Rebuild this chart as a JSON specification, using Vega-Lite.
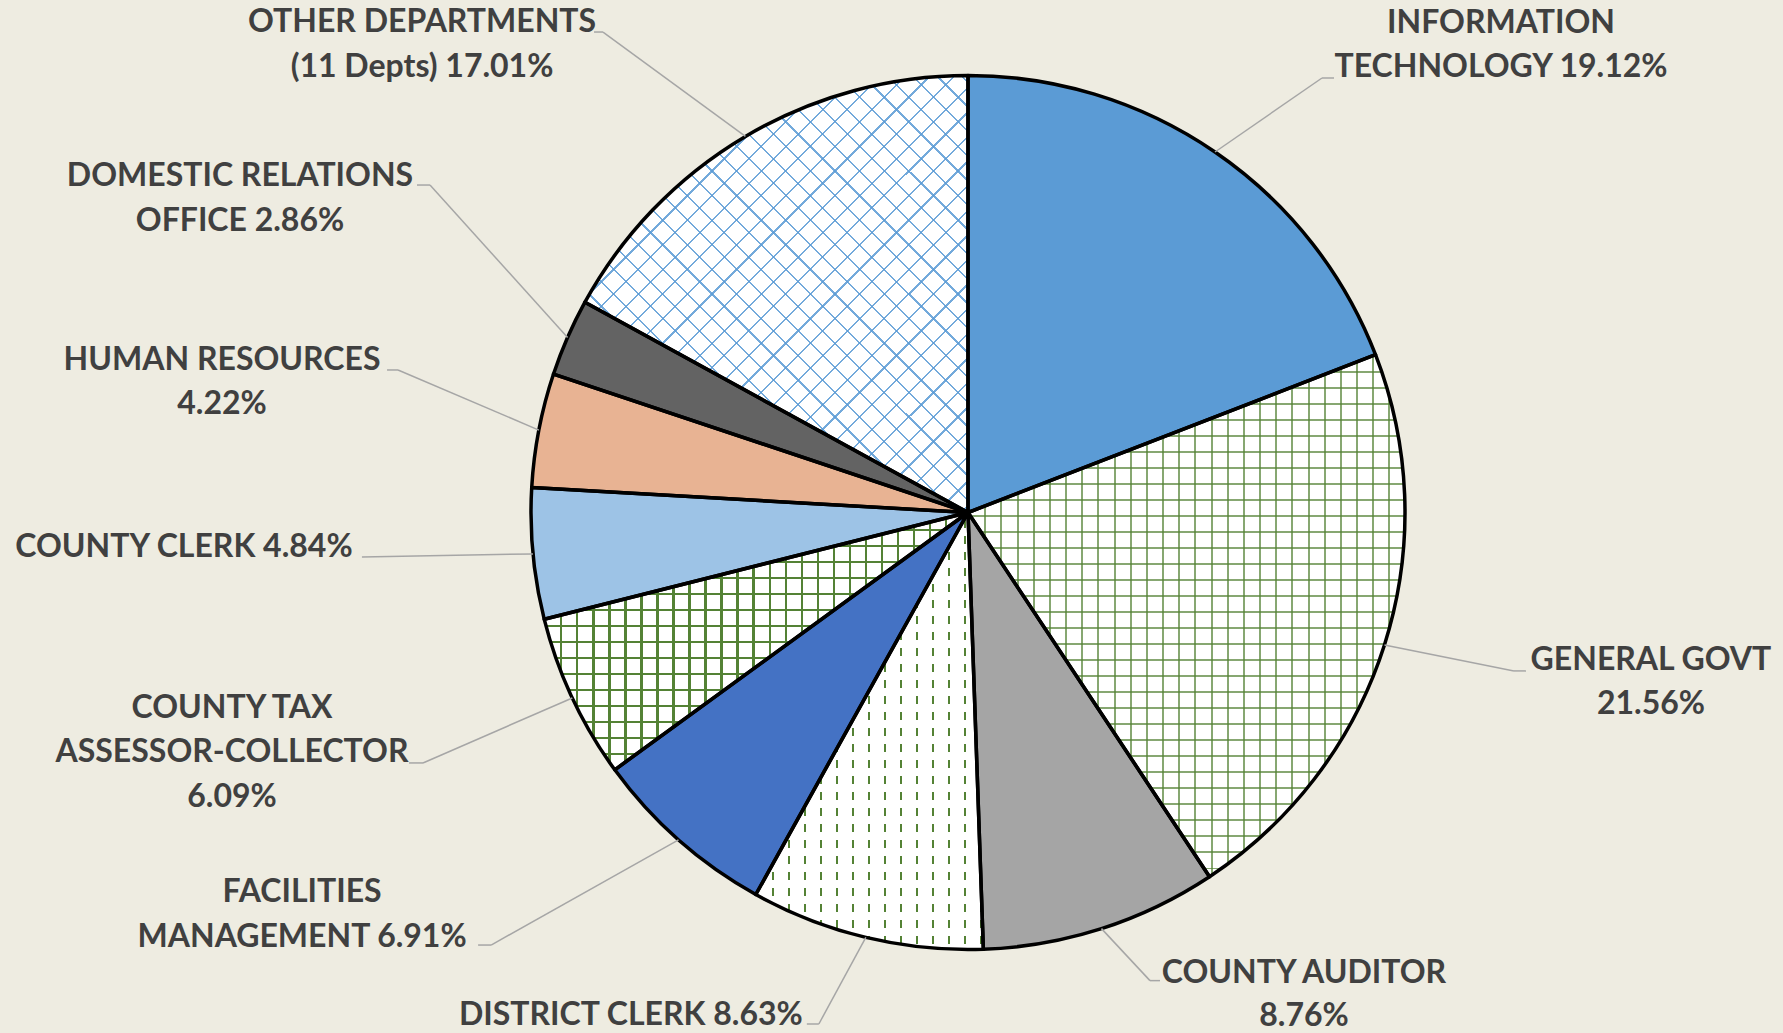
{
  "$schema": "https://vega.github.io/schema/vega-lite/v6.json",
  "width": 1630,
  "height": 1025,
  "padding": {"left": 153, "top": 0, "right": 0, "bottom": 8},
  "autosize": {"type": "none"},
  "background": "#EEECE1",
  "config": {"view": {"stroke": null}},
  "data": {"values": [
    {"dept": "INFORMATION TECHNOLOGY", "pct": 19.12, "order": 1, "label": ["INFORMATION", "TECHNOLOGY 19.12%"]},
    {"dept": "GENERAL GOVT", "pct": 21.56, "order": 2, "label": ["GENERAL GOVT", "21.56%"]},
    {"dept": "COUNTY AUDITOR", "pct": 8.76, "order": 3, "label": ["COUNTY AUDITOR", "8.76%"]},
    {"dept": "DISTRICT CLERK", "pct": 8.63, "order": 4, "label": ["DISTRICT CLERK 8.63%"]},
    {"dept": "FACILITIES MANAGEMENT", "pct": 6.91, "order": 5, "label": ["FACILITIES", "MANAGEMENT 6.91%"]},
    {"dept": "COUNTY TAX ASSESSOR-COLLECTOR", "pct": 6.09, "order": 6, "label": ["COUNTY TAX", "ASSESSOR-COLLECTOR", "6.09%"]},
    {"dept": "COUNTY CLERK", "pct": 4.84, "order": 7, "label": ["COUNTY CLERK 4.84%"]},
    {"dept": "HUMAN RESOURCES", "pct": 4.22, "order": 8, "label": ["HUMAN RESOURCES", "4.22%"]},
    {"dept": "DOMESTIC RELATIONS OFFICE", "pct": 2.86, "order": 9, "label": ["DOMESTIC RELATIONS", "OFFICE 2.86%"]},
    {"dept": "OTHER DEPARTMENTS (11 Depts)", "pct": 17.01, "order": 10, "label": ["OTHER DEPARTMENTS", "(11 Depts) 17.01%"]}
  ]},
  "transform": [
    {"window": [{"op": "sum", "field": "pct", "as": "cum"}], "sort": [{"field": "order"}], "frame": [null, 0]},
    {"calculate": "datum.cum - datum.pct", "as": "cum0"},
    {"calculate": "(datum.cum - datum.pct / 2) / 100 * 2 * PI", "as": "mid"},
    {"calculate": "sin(datum.mid)", "as": "ex"},
    {"calculate": "cos(datum.mid)", "as": "ey"}
  ],
  "layer": [
    {
      "mark": {"type": "arc", "outerRadius": 437, "stroke": null},
      "encoding": {
        "theta": {"field": "cum0", "type": "quantitative", "scale": {"domain": [0, 100]}, "stack": null},
        "theta2": {"field": "cum"},
        "color": {"field": "dept", "type": "nominal", "legend": null,
          "scale": {
            "domain": ["INFORMATION TECHNOLOGY", "GENERAL GOVT", "COUNTY AUDITOR", "DISTRICT CLERK", "FACILITIES MANAGEMENT", "COUNTY TAX ASSESSOR-COLLECTOR", "COUNTY CLERK", "HUMAN RESOURCES", "DOMESTIC RELATIONS OFFICE", "OTHER DEPARTMENTS (11 Depts)"],
            "range": ["#5B9BD5", "#FFFFFF", "#A5A5A5", "#FFFFFF", "#4472C4", "#FFFFFF", "#9DC3E6", "#E8B393", "#636363", "#FFFFFF"]
          }}
      }
    },
    {
      "transform": [{"filter": "datum.order == 2"}],
      "mark": {"type": "arc", "outerRadius": 437, "stroke": null, "fillOpacity": 0.7,
        "fill": {"gradient": "linear", "x1": 0, "y1": 0, "x2": 1, "y2": 0, "stops": [
          {"offset": 0, "color": "rgba(0,0,0,0)"},
          {"offset": 0.037, "color": "rgba(0,0,0,0)"}, {"offset": 0.037, "color": "#548235"}, {"offset": 0.0416, "color": "#548235"}, {"offset": 0.0416, "color": "rgba(0,0,0,0)"},
          {"offset": 0.074, "color": "rgba(0,0,0,0)"}, {"offset": 0.074, "color": "#548235"}, {"offset": 0.0786, "color": "#548235"}, {"offset": 0.0786, "color": "rgba(0,0,0,0)"},
          {"offset": 0.111, "color": "rgba(0,0,0,0)"}, {"offset": 0.111, "color": "#548235"}, {"offset": 0.1156, "color": "#548235"}, {"offset": 0.1156, "color": "rgba(0,0,0,0)"},
          {"offset": 0.148, "color": "rgba(0,0,0,0)"}, {"offset": 0.148, "color": "#548235"}, {"offset": 0.1526, "color": "#548235"}, {"offset": 0.1526, "color": "rgba(0,0,0,0)"},
          {"offset": 0.185, "color": "rgba(0,0,0,0)"}, {"offset": 0.185, "color": "#548235"}, {"offset": 0.1896, "color": "#548235"}, {"offset": 0.1896, "color": "rgba(0,0,0,0)"},
          {"offset": 0.222, "color": "rgba(0,0,0,0)"}, {"offset": 0.222, "color": "#548235"}, {"offset": 0.2266, "color": "#548235"}, {"offset": 0.2266, "color": "rgba(0,0,0,0)"},
          {"offset": 0.259, "color": "rgba(0,0,0,0)"}, {"offset": 0.259, "color": "#548235"}, {"offset": 0.2636, "color": "#548235"}, {"offset": 0.2636, "color": "rgba(0,0,0,0)"},
          {"offset": 0.296, "color": "rgba(0,0,0,0)"}, {"offset": 0.296, "color": "#548235"}, {"offset": 0.3006, "color": "#548235"}, {"offset": 0.3006, "color": "rgba(0,0,0,0)"},
          {"offset": 0.333, "color": "rgba(0,0,0,0)"}, {"offset": 0.333, "color": "#548235"}, {"offset": 0.3376, "color": "#548235"}, {"offset": 0.3376, "color": "rgba(0,0,0,0)"},
          {"offset": 0.37, "color": "rgba(0,0,0,0)"}, {"offset": 0.37, "color": "#548235"}, {"offset": 0.3746, "color": "#548235"}, {"offset": 0.3746, "color": "rgba(0,0,0,0)"},
          {"offset": 0.407, "color": "rgba(0,0,0,0)"}, {"offset": 0.407, "color": "#548235"}, {"offset": 0.4116, "color": "#548235"}, {"offset": 0.4116, "color": "rgba(0,0,0,0)"},
          {"offset": 0.444, "color": "rgba(0,0,0,0)"}, {"offset": 0.444, "color": "#548235"}, {"offset": 0.4486, "color": "#548235"}, {"offset": 0.4486, "color": "rgba(0,0,0,0)"},
          {"offset": 0.481, "color": "rgba(0,0,0,0)"}, {"offset": 0.481, "color": "#548235"}, {"offset": 0.4856, "color": "#548235"}, {"offset": 0.4856, "color": "rgba(0,0,0,0)"},
          {"offset": 0.518, "color": "rgba(0,0,0,0)"}, {"offset": 0.518, "color": "#548235"}, {"offset": 0.5226, "color": "#548235"}, {"offset": 0.5226, "color": "rgba(0,0,0,0)"},
          {"offset": 0.555, "color": "rgba(0,0,0,0)"}, {"offset": 0.555, "color": "#548235"}, {"offset": 0.5596, "color": "#548235"}, {"offset": 0.5596, "color": "rgba(0,0,0,0)"},
          {"offset": 0.592, "color": "rgba(0,0,0,0)"}, {"offset": 0.592, "color": "#548235"}, {"offset": 0.5966, "color": "#548235"}, {"offset": 0.5966, "color": "rgba(0,0,0,0)"},
          {"offset": 0.629, "color": "rgba(0,0,0,0)"}, {"offset": 0.629, "color": "#548235"}, {"offset": 0.6336, "color": "#548235"}, {"offset": 0.6336, "color": "rgba(0,0,0,0)"},
          {"offset": 0.666, "color": "rgba(0,0,0,0)"}, {"offset": 0.666, "color": "#548235"}, {"offset": 0.6706, "color": "#548235"}, {"offset": 0.6706, "color": "rgba(0,0,0,0)"},
          {"offset": 0.703, "color": "rgba(0,0,0,0)"}, {"offset": 0.703, "color": "#548235"}, {"offset": 0.7076, "color": "#548235"}, {"offset": 0.7076, "color": "rgba(0,0,0,0)"},
          {"offset": 0.74, "color": "rgba(0,0,0,0)"}, {"offset": 0.74, "color": "#548235"}, {"offset": 0.7446, "color": "#548235"}, {"offset": 0.7446, "color": "rgba(0,0,0,0)"},
          {"offset": 0.777, "color": "rgba(0,0,0,0)"}, {"offset": 0.777, "color": "#548235"}, {"offset": 0.7816, "color": "#548235"}, {"offset": 0.7816, "color": "rgba(0,0,0,0)"},
          {"offset": 0.814, "color": "rgba(0,0,0,0)"}, {"offset": 0.814, "color": "#548235"}, {"offset": 0.8186, "color": "#548235"}, {"offset": 0.8186, "color": "rgba(0,0,0,0)"},
          {"offset": 0.851, "color": "rgba(0,0,0,0)"}, {"offset": 0.851, "color": "#548235"}, {"offset": 0.8556, "color": "#548235"}, {"offset": 0.8556, "color": "rgba(0,0,0,0)"},
          {"offset": 0.888, "color": "rgba(0,0,0,0)"}, {"offset": 0.888, "color": "#548235"}, {"offset": 0.8926, "color": "#548235"}, {"offset": 0.8926, "color": "rgba(0,0,0,0)"},
          {"offset": 0.925, "color": "rgba(0,0,0,0)"}, {"offset": 0.925, "color": "#548235"}, {"offset": 0.9296, "color": "#548235"}, {"offset": 0.9296, "color": "rgba(0,0,0,0)"},
          {"offset": 0.962, "color": "rgba(0,0,0,0)"}, {"offset": 0.962, "color": "#548235"}, {"offset": 0.9666, "color": "#548235"}, {"offset": 0.9666, "color": "rgba(0,0,0,0)"},
          {"offset": 1, "color": "rgba(0,0,0,0)"}
        ]}},
      "encoding": {
        "theta": {"field": "cum0", "type": "quantitative", "scale": {"domain": [0, 100]}, "stack": null},
        "theta2": {"field": "cum"}
      }
    },
    {
      "transform": [{"filter": "datum.order == 2"}],
      "mark": {"type": "arc", "outerRadius": 437, "stroke": null, "fillOpacity": 0.7,
        "fill": {"gradient": "linear", "x1": 0, "y1": 0, "x2": 0, "y2": 1, "stops": [
          {"offset": 0, "color": "rgba(0,0,0,0)"},
          {"offset": 0.0307, "color": "rgba(0,0,0,0)"}, {"offset": 0.0307, "color": "#548235"}, {"offset": 0.0345, "color": "#548235"}, {"offset": 0.0345, "color": "rgba(0,0,0,0)"},
          {"offset": 0.0614, "color": "rgba(0,0,0,0)"}, {"offset": 0.0614, "color": "#548235"}, {"offset": 0.0652, "color": "#548235"}, {"offset": 0.0652, "color": "rgba(0,0,0,0)"},
          {"offset": 0.0921, "color": "rgba(0,0,0,0)"}, {"offset": 0.0921, "color": "#548235"}, {"offset": 0.0959, "color": "#548235"}, {"offset": 0.0959, "color": "rgba(0,0,0,0)"},
          {"offset": 0.1228, "color": "rgba(0,0,0,0)"}, {"offset": 0.1228, "color": "#548235"}, {"offset": 0.1266, "color": "#548235"}, {"offset": 0.1266, "color": "rgba(0,0,0,0)"},
          {"offset": 0.1535, "color": "rgba(0,0,0,0)"}, {"offset": 0.1535, "color": "#548235"}, {"offset": 0.1573, "color": "#548235"}, {"offset": 0.1573, "color": "rgba(0,0,0,0)"},
          {"offset": 0.1842, "color": "rgba(0,0,0,0)"}, {"offset": 0.1842, "color": "#548235"}, {"offset": 0.188, "color": "#548235"}, {"offset": 0.188, "color": "rgba(0,0,0,0)"},
          {"offset": 0.2149, "color": "rgba(0,0,0,0)"}, {"offset": 0.2149, "color": "#548235"}, {"offset": 0.2187, "color": "#548235"}, {"offset": 0.2187, "color": "rgba(0,0,0,0)"},
          {"offset": 0.2456, "color": "rgba(0,0,0,0)"}, {"offset": 0.2456, "color": "#548235"}, {"offset": 0.2494, "color": "#548235"}, {"offset": 0.2494, "color": "rgba(0,0,0,0)"},
          {"offset": 0.2763, "color": "rgba(0,0,0,0)"}, {"offset": 0.2763, "color": "#548235"}, {"offset": 0.2801, "color": "#548235"}, {"offset": 0.2801, "color": "rgba(0,0,0,0)"},
          {"offset": 0.307, "color": "rgba(0,0,0,0)"}, {"offset": 0.307, "color": "#548235"}, {"offset": 0.3108, "color": "#548235"}, {"offset": 0.3108, "color": "rgba(0,0,0,0)"},
          {"offset": 0.3377, "color": "rgba(0,0,0,0)"}, {"offset": 0.3377, "color": "#548235"}, {"offset": 0.3415, "color": "#548235"}, {"offset": 0.3415, "color": "rgba(0,0,0,0)"},
          {"offset": 0.3684, "color": "rgba(0,0,0,0)"}, {"offset": 0.3684, "color": "#548235"}, {"offset": 0.3722, "color": "#548235"}, {"offset": 0.3722, "color": "rgba(0,0,0,0)"},
          {"offset": 0.3991, "color": "rgba(0,0,0,0)"}, {"offset": 0.3991, "color": "#548235"}, {"offset": 0.4029, "color": "#548235"}, {"offset": 0.4029, "color": "rgba(0,0,0,0)"},
          {"offset": 0.4298, "color": "rgba(0,0,0,0)"}, {"offset": 0.4298, "color": "#548235"}, {"offset": 0.4336, "color": "#548235"}, {"offset": 0.4336, "color": "rgba(0,0,0,0)"},
          {"offset": 0.4605, "color": "rgba(0,0,0,0)"}, {"offset": 0.4605, "color": "#548235"}, {"offset": 0.4643, "color": "#548235"}, {"offset": 0.4643, "color": "rgba(0,0,0,0)"},
          {"offset": 0.4912, "color": "rgba(0,0,0,0)"}, {"offset": 0.4912, "color": "#548235"}, {"offset": 0.495, "color": "#548235"}, {"offset": 0.495, "color": "rgba(0,0,0,0)"},
          {"offset": 0.5219, "color": "rgba(0,0,0,0)"}, {"offset": 0.5219, "color": "#548235"}, {"offset": 0.5257, "color": "#548235"}, {"offset": 0.5257, "color": "rgba(0,0,0,0)"},
          {"offset": 0.5526, "color": "rgba(0,0,0,0)"}, {"offset": 0.5526, "color": "#548235"}, {"offset": 0.5564, "color": "#548235"}, {"offset": 0.5564, "color": "rgba(0,0,0,0)"},
          {"offset": 0.5833, "color": "rgba(0,0,0,0)"}, {"offset": 0.5833, "color": "#548235"}, {"offset": 0.5871, "color": "#548235"}, {"offset": 0.5871, "color": "rgba(0,0,0,0)"},
          {"offset": 0.614, "color": "rgba(0,0,0,0)"}, {"offset": 0.614, "color": "#548235"}, {"offset": 0.6178, "color": "#548235"}, {"offset": 0.6178, "color": "rgba(0,0,0,0)"},
          {"offset": 0.6447, "color": "rgba(0,0,0,0)"}, {"offset": 0.6447, "color": "#548235"}, {"offset": 0.6485, "color": "#548235"}, {"offset": 0.6485, "color": "rgba(0,0,0,0)"},
          {"offset": 0.6754, "color": "rgba(0,0,0,0)"}, {"offset": 0.6754, "color": "#548235"}, {"offset": 0.6792, "color": "#548235"}, {"offset": 0.6792, "color": "rgba(0,0,0,0)"},
          {"offset": 0.7061, "color": "rgba(0,0,0,0)"}, {"offset": 0.7061, "color": "#548235"}, {"offset": 0.7099, "color": "#548235"}, {"offset": 0.7099, "color": "rgba(0,0,0,0)"},
          {"offset": 0.7368, "color": "rgba(0,0,0,0)"}, {"offset": 0.7368, "color": "#548235"}, {"offset": 0.7406, "color": "#548235"}, {"offset": 0.7406, "color": "rgba(0,0,0,0)"},
          {"offset": 0.7675, "color": "rgba(0,0,0,0)"}, {"offset": 0.7675, "color": "#548235"}, {"offset": 0.7713, "color": "#548235"}, {"offset": 0.7713, "color": "rgba(0,0,0,0)"},
          {"offset": 0.7982, "color": "rgba(0,0,0,0)"}, {"offset": 0.7982, "color": "#548235"}, {"offset": 0.802, "color": "#548235"}, {"offset": 0.802, "color": "rgba(0,0,0,0)"},
          {"offset": 0.8289, "color": "rgba(0,0,0,0)"}, {"offset": 0.8289, "color": "#548235"}, {"offset": 0.8327, "color": "#548235"}, {"offset": 0.8327, "color": "rgba(0,0,0,0)"},
          {"offset": 0.8596, "color": "rgba(0,0,0,0)"}, {"offset": 0.8596, "color": "#548235"}, {"offset": 0.8634, "color": "#548235"}, {"offset": 0.8634, "color": "rgba(0,0,0,0)"},
          {"offset": 0.8903, "color": "rgba(0,0,0,0)"}, {"offset": 0.8903, "color": "#548235"}, {"offset": 0.8941, "color": "#548235"}, {"offset": 0.8941, "color": "rgba(0,0,0,0)"},
          {"offset": 0.921, "color": "rgba(0,0,0,0)"}, {"offset": 0.921, "color": "#548235"}, {"offset": 0.9248, "color": "#548235"}, {"offset": 0.9248, "color": "rgba(0,0,0,0)"},
          {"offset": 0.9517, "color": "rgba(0,0,0,0)"}, {"offset": 0.9517, "color": "#548235"}, {"offset": 0.9555, "color": "#548235"}, {"offset": 0.9555, "color": "rgba(0,0,0,0)"},
          {"offset": 0.9824, "color": "rgba(0,0,0,0)"}, {"offset": 0.9824, "color": "#548235"}, {"offset": 0.9862, "color": "#548235"}, {"offset": 0.9862, "color": "rgba(0,0,0,0)"},
          {"offset": 1, "color": "rgba(0,0,0,0)"}
        ]}},
      "encoding": {
        "theta": {"field": "cum0", "type": "quantitative", "scale": {"domain": [0, 100]}, "stack": null},
        "theta2": {"field": "cum"}
      }
    },
    {
      "transform": [{"filter": "datum.order == 4"}],
      "mark": {"type": "arc", "outerRadius": 437, "stroke": null,
        "fill": {"gradient": "linear", "x1": 0, "y1": 0, "x2": 1, "y2": 0, "stops": [
          {"offset": 0, "color": "rgba(0,0,0,0)"},
          {"offset": 0.0703, "color": "rgba(0,0,0,0)"}, {"offset": 0.0703, "color": "#548235"}, {"offset": 0.0791, "color": "#548235"}, {"offset": 0.0791, "color": "rgba(0,0,0,0)"},
          {"offset": 0.1406, "color": "rgba(0,0,0,0)"}, {"offset": 0.1406, "color": "#548235"}, {"offset": 0.1494, "color": "#548235"}, {"offset": 0.1494, "color": "rgba(0,0,0,0)"},
          {"offset": 0.2109, "color": "rgba(0,0,0,0)"}, {"offset": 0.2109, "color": "#548235"}, {"offset": 0.2197, "color": "#548235"}, {"offset": 0.2197, "color": "rgba(0,0,0,0)"},
          {"offset": 0.2812, "color": "rgba(0,0,0,0)"}, {"offset": 0.2812, "color": "#548235"}, {"offset": 0.29, "color": "#548235"}, {"offset": 0.29, "color": "rgba(0,0,0,0)"},
          {"offset": 0.3515, "color": "rgba(0,0,0,0)"}, {"offset": 0.3515, "color": "#548235"}, {"offset": 0.3603, "color": "#548235"}, {"offset": 0.3603, "color": "rgba(0,0,0,0)"},
          {"offset": 0.4218, "color": "rgba(0,0,0,0)"}, {"offset": 0.4218, "color": "#548235"}, {"offset": 0.4306, "color": "#548235"}, {"offset": 0.4306, "color": "rgba(0,0,0,0)"},
          {"offset": 0.4921, "color": "rgba(0,0,0,0)"}, {"offset": 0.4921, "color": "#548235"}, {"offset": 0.5009, "color": "#548235"}, {"offset": 0.5009, "color": "rgba(0,0,0,0)"},
          {"offset": 0.5624, "color": "rgba(0,0,0,0)"}, {"offset": 0.5624, "color": "#548235"}, {"offset": 0.5712, "color": "#548235"}, {"offset": 0.5712, "color": "rgba(0,0,0,0)"},
          {"offset": 0.6327, "color": "rgba(0,0,0,0)"}, {"offset": 0.6327, "color": "#548235"}, {"offset": 0.6415, "color": "#548235"}, {"offset": 0.6415, "color": "rgba(0,0,0,0)"},
          {"offset": 0.703, "color": "rgba(0,0,0,0)"}, {"offset": 0.703, "color": "#548235"}, {"offset": 0.7118, "color": "#548235"}, {"offset": 0.7118, "color": "rgba(0,0,0,0)"},
          {"offset": 0.7733, "color": "rgba(0,0,0,0)"}, {"offset": 0.7733, "color": "#548235"}, {"offset": 0.7821, "color": "#548235"}, {"offset": 0.7821, "color": "rgba(0,0,0,0)"},
          {"offset": 0.8436, "color": "rgba(0,0,0,0)"}, {"offset": 0.8436, "color": "#548235"}, {"offset": 0.8524, "color": "#548235"}, {"offset": 0.8524, "color": "rgba(0,0,0,0)"},
          {"offset": 0.9139, "color": "rgba(0,0,0,0)"}, {"offset": 0.9139, "color": "#548235"}, {"offset": 0.9227, "color": "#548235"}, {"offset": 0.9227, "color": "rgba(0,0,0,0)"},
          {"offset": 0.9842, "color": "rgba(0,0,0,0)"}, {"offset": 0.9842, "color": "#548235"}, {"offset": 0.993, "color": "#548235"}, {"offset": 0.993, "color": "rgba(0,0,0,0)"},
          {"offset": 1, "color": "rgba(0,0,0,0)"}
        ]}},
      "encoding": {
        "theta": {"field": "cum0", "type": "quantitative", "scale": {"domain": [0, 100]}, "stack": null},
        "theta2": {"field": "cum"}
      }
    },
    {
      "transform": [{"filter": "datum.order == 4"}],
      "mark": {"type": "arc", "outerRadius": 437, "stroke": null,
        "fill": {"gradient": "linear", "x1": 0, "y1": 0, "x2": 0, "y2": 1, "stops": [
          {"offset": 0, "color": "#FFFFFF"}, {"offset": 0.0183, "color": "#FFFFFF"}, {"offset": 0.0183, "color": "rgba(255,255,255,0)"},
          {"offset": 0.0366, "color": "rgba(255,255,255,0)"}, {"offset": 0.0366, "color": "#FFFFFF"}, {"offset": 0.0549, "color": "#FFFFFF"}, {"offset": 0.0549, "color": "rgba(255,255,255,0)"},
          {"offset": 0.0732, "color": "rgba(255,255,255,0)"}, {"offset": 0.0732, "color": "#FFFFFF"}, {"offset": 0.0915, "color": "#FFFFFF"}, {"offset": 0.0915, "color": "rgba(255,255,255,0)"},
          {"offset": 0.1098, "color": "rgba(255,255,255,0)"}, {"offset": 0.1098, "color": "#FFFFFF"}, {"offset": 0.1281, "color": "#FFFFFF"}, {"offset": 0.1281, "color": "rgba(255,255,255,0)"},
          {"offset": 0.1464, "color": "rgba(255,255,255,0)"}, {"offset": 0.1464, "color": "#FFFFFF"}, {"offset": 0.1647, "color": "#FFFFFF"}, {"offset": 0.1647, "color": "rgba(255,255,255,0)"},
          {"offset": 0.183, "color": "rgba(255,255,255,0)"}, {"offset": 0.183, "color": "#FFFFFF"}, {"offset": 0.2013, "color": "#FFFFFF"}, {"offset": 0.2013, "color": "rgba(255,255,255,0)"},
          {"offset": 0.2196, "color": "rgba(255,255,255,0)"}, {"offset": 0.2196, "color": "#FFFFFF"}, {"offset": 0.2379, "color": "#FFFFFF"}, {"offset": 0.2379, "color": "rgba(255,255,255,0)"},
          {"offset": 0.2562, "color": "rgba(255,255,255,0)"}, {"offset": 0.2562, "color": "#FFFFFF"}, {"offset": 0.2745, "color": "#FFFFFF"}, {"offset": 0.2745, "color": "rgba(255,255,255,0)"},
          {"offset": 0.2928, "color": "rgba(255,255,255,0)"}, {"offset": 0.2928, "color": "#FFFFFF"}, {"offset": 0.3111, "color": "#FFFFFF"}, {"offset": 0.3111, "color": "rgba(255,255,255,0)"},
          {"offset": 0.3294, "color": "rgba(255,255,255,0)"}, {"offset": 0.3294, "color": "#FFFFFF"}, {"offset": 0.3477, "color": "#FFFFFF"}, {"offset": 0.3477, "color": "rgba(255,255,255,0)"},
          {"offset": 0.366, "color": "rgba(255,255,255,0)"}, {"offset": 0.366, "color": "#FFFFFF"}, {"offset": 0.3843, "color": "#FFFFFF"}, {"offset": 0.3843, "color": "rgba(255,255,255,0)"},
          {"offset": 0.4026, "color": "rgba(255,255,255,0)"}, {"offset": 0.4026, "color": "#FFFFFF"}, {"offset": 0.4209, "color": "#FFFFFF"}, {"offset": 0.4209, "color": "rgba(255,255,255,0)"},
          {"offset": 0.4392, "color": "rgba(255,255,255,0)"}, {"offset": 0.4392, "color": "#FFFFFF"}, {"offset": 0.4575, "color": "#FFFFFF"}, {"offset": 0.4575, "color": "rgba(255,255,255,0)"},
          {"offset": 0.4758, "color": "rgba(255,255,255,0)"}, {"offset": 0.4758, "color": "#FFFFFF"}, {"offset": 0.4941, "color": "#FFFFFF"}, {"offset": 0.4941, "color": "rgba(255,255,255,0)"},
          {"offset": 0.5124, "color": "rgba(255,255,255,0)"}, {"offset": 0.5124, "color": "#FFFFFF"}, {"offset": 0.5307, "color": "#FFFFFF"}, {"offset": 0.5307, "color": "rgba(255,255,255,0)"},
          {"offset": 0.549, "color": "rgba(255,255,255,0)"}, {"offset": 0.549, "color": "#FFFFFF"}, {"offset": 0.5673, "color": "#FFFFFF"}, {"offset": 0.5673, "color": "rgba(255,255,255,0)"},
          {"offset": 0.5856, "color": "rgba(255,255,255,0)"}, {"offset": 0.5856, "color": "#FFFFFF"}, {"offset": 0.6039, "color": "#FFFFFF"}, {"offset": 0.6039, "color": "rgba(255,255,255,0)"},
          {"offset": 0.6222, "color": "rgba(255,255,255,0)"}, {"offset": 0.6222, "color": "#FFFFFF"}, {"offset": 0.6405, "color": "#FFFFFF"}, {"offset": 0.6405, "color": "rgba(255,255,255,0)"},
          {"offset": 0.6588, "color": "rgba(255,255,255,0)"}, {"offset": 0.6588, "color": "#FFFFFF"}, {"offset": 0.6771, "color": "#FFFFFF"}, {"offset": 0.6771, "color": "rgba(255,255,255,0)"},
          {"offset": 0.6954, "color": "rgba(255,255,255,0)"}, {"offset": 0.6954, "color": "#FFFFFF"}, {"offset": 0.7137, "color": "#FFFFFF"}, {"offset": 0.7137, "color": "rgba(255,255,255,0)"},
          {"offset": 0.732, "color": "rgba(255,255,255,0)"}, {"offset": 0.732, "color": "#FFFFFF"}, {"offset": 0.7503, "color": "#FFFFFF"}, {"offset": 0.7503, "color": "rgba(255,255,255,0)"},
          {"offset": 0.7686, "color": "rgba(255,255,255,0)"}, {"offset": 0.7686, "color": "#FFFFFF"}, {"offset": 0.7869, "color": "#FFFFFF"}, {"offset": 0.7869, "color": "rgba(255,255,255,0)"},
          {"offset": 0.8052, "color": "rgba(255,255,255,0)"}, {"offset": 0.8052, "color": "#FFFFFF"}, {"offset": 0.8235, "color": "#FFFFFF"}, {"offset": 0.8235, "color": "rgba(255,255,255,0)"},
          {"offset": 0.8418, "color": "rgba(255,255,255,0)"}, {"offset": 0.8418, "color": "#FFFFFF"}, {"offset": 0.8601, "color": "#FFFFFF"}, {"offset": 0.8601, "color": "rgba(255,255,255,0)"},
          {"offset": 0.8784, "color": "rgba(255,255,255,0)"}, {"offset": 0.8784, "color": "#FFFFFF"}, {"offset": 0.8967, "color": "#FFFFFF"}, {"offset": 0.8967, "color": "rgba(255,255,255,0)"},
          {"offset": 0.915, "color": "rgba(255,255,255,0)"}, {"offset": 0.915, "color": "#FFFFFF"}, {"offset": 0.9333, "color": "#FFFFFF"}, {"offset": 0.9333, "color": "rgba(255,255,255,0)"},
          {"offset": 0.9516, "color": "rgba(255,255,255,0)"}, {"offset": 0.9516, "color": "#FFFFFF"}, {"offset": 0.9699, "color": "#FFFFFF"}, {"offset": 0.9699, "color": "rgba(255,255,255,0)"},
          {"offset": 0.9882, "color": "rgba(255,255,255,0)"}, {"offset": 0.9882, "color": "#FFFFFF"}, {"offset": 1, "color": "#FFFFFF"}
        ]}},
      "encoding": {
        "theta": {"field": "cum0", "type": "quantitative", "scale": {"domain": [0, 100]}, "stack": null},
        "theta2": {"field": "cum"}
      }
    },
    {
      "transform": [{"filter": "datum.order == 6"}],
      "mark": {"type": "arc", "outerRadius": 437, "stroke": null,
        "fill": {"gradient": "linear", "x1": 0, "y1": 0, "x2": 1, "y2": 0, "stops": [
          {"offset": 0, "color": "rgba(0,0,0,0)"},
          {"offset": 0.0378, "color": "rgba(0,0,0,0)"}, {"offset": 0.0378, "color": "#548235"}, {"offset": 0.043, "color": "#548235"}, {"offset": 0.043, "color": "rgba(0,0,0,0)"},
          {"offset": 0.0756, "color": "rgba(0,0,0,0)"}, {"offset": 0.0756, "color": "#548235"}, {"offset": 0.0808, "color": "#548235"}, {"offset": 0.0808, "color": "rgba(0,0,0,0)"},
          {"offset": 0.1134, "color": "rgba(0,0,0,0)"}, {"offset": 0.1134, "color": "#548235"}, {"offset": 0.1186, "color": "#548235"}, {"offset": 0.1186, "color": "rgba(0,0,0,0)"},
          {"offset": 0.1512, "color": "rgba(0,0,0,0)"}, {"offset": 0.1512, "color": "#548235"}, {"offset": 0.1564, "color": "#548235"}, {"offset": 0.1564, "color": "rgba(0,0,0,0)"},
          {"offset": 0.189, "color": "rgba(0,0,0,0)"}, {"offset": 0.189, "color": "#548235"}, {"offset": 0.1942, "color": "#548235"}, {"offset": 0.1942, "color": "rgba(0,0,0,0)"},
          {"offset": 0.2268, "color": "rgba(0,0,0,0)"}, {"offset": 0.2268, "color": "#548235"}, {"offset": 0.232, "color": "#548235"}, {"offset": 0.232, "color": "rgba(0,0,0,0)"},
          {"offset": 0.2646, "color": "rgba(0,0,0,0)"}, {"offset": 0.2646, "color": "#548235"}, {"offset": 0.2698, "color": "#548235"}, {"offset": 0.2698, "color": "rgba(0,0,0,0)"},
          {"offset": 0.3024, "color": "rgba(0,0,0,0)"}, {"offset": 0.3024, "color": "#548235"}, {"offset": 0.3076, "color": "#548235"}, {"offset": 0.3076, "color": "rgba(0,0,0,0)"},
          {"offset": 0.3402, "color": "rgba(0,0,0,0)"}, {"offset": 0.3402, "color": "#548235"}, {"offset": 0.3454, "color": "#548235"}, {"offset": 0.3454, "color": "rgba(0,0,0,0)"},
          {"offset": 0.378, "color": "rgba(0,0,0,0)"}, {"offset": 0.378, "color": "#548235"}, {"offset": 0.3832, "color": "#548235"}, {"offset": 0.3832, "color": "rgba(0,0,0,0)"},
          {"offset": 0.4158, "color": "rgba(0,0,0,0)"}, {"offset": 0.4158, "color": "#548235"}, {"offset": 0.421, "color": "#548235"}, {"offset": 0.421, "color": "rgba(0,0,0,0)"},
          {"offset": 0.4536, "color": "rgba(0,0,0,0)"}, {"offset": 0.4536, "color": "#548235"}, {"offset": 0.4588, "color": "#548235"}, {"offset": 0.4588, "color": "rgba(0,0,0,0)"},
          {"offset": 0.4914, "color": "rgba(0,0,0,0)"}, {"offset": 0.4914, "color": "#548235"}, {"offset": 0.4966, "color": "#548235"}, {"offset": 0.4966, "color": "rgba(0,0,0,0)"},
          {"offset": 0.5292, "color": "rgba(0,0,0,0)"}, {"offset": 0.5292, "color": "#548235"}, {"offset": 0.5344, "color": "#548235"}, {"offset": 0.5344, "color": "rgba(0,0,0,0)"},
          {"offset": 0.567, "color": "rgba(0,0,0,0)"}, {"offset": 0.567, "color": "#548235"}, {"offset": 0.5722, "color": "#548235"}, {"offset": 0.5722, "color": "rgba(0,0,0,0)"},
          {"offset": 0.6048, "color": "rgba(0,0,0,0)"}, {"offset": 0.6048, "color": "#548235"}, {"offset": 0.61, "color": "#548235"}, {"offset": 0.61, "color": "rgba(0,0,0,0)"},
          {"offset": 0.6426, "color": "rgba(0,0,0,0)"}, {"offset": 0.6426, "color": "#548235"}, {"offset": 0.6478, "color": "#548235"}, {"offset": 0.6478, "color": "rgba(0,0,0,0)"},
          {"offset": 0.6804, "color": "rgba(0,0,0,0)"}, {"offset": 0.6804, "color": "#548235"}, {"offset": 0.6856, "color": "#548235"}, {"offset": 0.6856, "color": "rgba(0,0,0,0)"},
          {"offset": 0.7182, "color": "rgba(0,0,0,0)"}, {"offset": 0.7182, "color": "#548235"}, {"offset": 0.7234, "color": "#548235"}, {"offset": 0.7234, "color": "rgba(0,0,0,0)"},
          {"offset": 0.756, "color": "rgba(0,0,0,0)"}, {"offset": 0.756, "color": "#548235"}, {"offset": 0.7612, "color": "#548235"}, {"offset": 0.7612, "color": "rgba(0,0,0,0)"},
          {"offset": 0.7938, "color": "rgba(0,0,0,0)"}, {"offset": 0.7938, "color": "#548235"}, {"offset": 0.799, "color": "#548235"}, {"offset": 0.799, "color": "rgba(0,0,0,0)"},
          {"offset": 0.8316, "color": "rgba(0,0,0,0)"}, {"offset": 0.8316, "color": "#548235"}, {"offset": 0.8368, "color": "#548235"}, {"offset": 0.8368, "color": "rgba(0,0,0,0)"},
          {"offset": 0.8694, "color": "rgba(0,0,0,0)"}, {"offset": 0.8694, "color": "#548235"}, {"offset": 0.8746, "color": "#548235"}, {"offset": 0.8746, "color": "rgba(0,0,0,0)"},
          {"offset": 0.9072, "color": "rgba(0,0,0,0)"}, {"offset": 0.9072, "color": "#548235"}, {"offset": 0.9124, "color": "#548235"}, {"offset": 0.9124, "color": "rgba(0,0,0,0)"},
          {"offset": 0.945, "color": "rgba(0,0,0,0)"}, {"offset": 0.945, "color": "#548235"}, {"offset": 0.9502, "color": "#548235"}, {"offset": 0.9502, "color": "rgba(0,0,0,0)"},
          {"offset": 0.9828, "color": "rgba(0,0,0,0)"}, {"offset": 0.9828, "color": "#548235"}, {"offset": 0.988, "color": "#548235"}, {"offset": 0.988, "color": "rgba(0,0,0,0)"},
          {"offset": 1, "color": "rgba(0,0,0,0)"}
        ]}},
      "encoding": {
        "theta": {"field": "cum0", "type": "quantitative", "scale": {"domain": [0, 100]}, "stack": null},
        "theta2": {"field": "cum"}
      }
    },
    {
      "transform": [{"filter": "datum.order == 6"}],
      "mark": {"type": "arc", "outerRadius": 437, "stroke": null,
        "fill": {"gradient": "linear", "x1": 0, "y1": 0, "x2": 0, "y2": 1, "stops": [
          {"offset": 0, "color": "rgba(0,0,0,0)"},
          {"offset": 0.0622, "color": "rgba(0,0,0,0)"}, {"offset": 0.0622, "color": "#548235"}, {"offset": 0.0708, "color": "#548235"}, {"offset": 0.0708, "color": "rgba(0,0,0,0)"},
          {"offset": 0.1244, "color": "rgba(0,0,0,0)"}, {"offset": 0.1244, "color": "#548235"}, {"offset": 0.133, "color": "#548235"}, {"offset": 0.133, "color": "rgba(0,0,0,0)"},
          {"offset": 0.1866, "color": "rgba(0,0,0,0)"}, {"offset": 0.1866, "color": "#548235"}, {"offset": 0.1952, "color": "#548235"}, {"offset": 0.1952, "color": "rgba(0,0,0,0)"},
          {"offset": 0.2488, "color": "rgba(0,0,0,0)"}, {"offset": 0.2488, "color": "#548235"}, {"offset": 0.2574, "color": "#548235"}, {"offset": 0.2574, "color": "rgba(0,0,0,0)"},
          {"offset": 0.311, "color": "rgba(0,0,0,0)"}, {"offset": 0.311, "color": "#548235"}, {"offset": 0.3196, "color": "#548235"}, {"offset": 0.3196, "color": "rgba(0,0,0,0)"},
          {"offset": 0.3732, "color": "rgba(0,0,0,0)"}, {"offset": 0.3732, "color": "#548235"}, {"offset": 0.3818, "color": "#548235"}, {"offset": 0.3818, "color": "rgba(0,0,0,0)"},
          {"offset": 0.4354, "color": "rgba(0,0,0,0)"}, {"offset": 0.4354, "color": "#548235"}, {"offset": 0.444, "color": "#548235"}, {"offset": 0.444, "color": "rgba(0,0,0,0)"},
          {"offset": 0.4976, "color": "rgba(0,0,0,0)"}, {"offset": 0.4976, "color": "#548235"}, {"offset": 0.5062, "color": "#548235"}, {"offset": 0.5062, "color": "rgba(0,0,0,0)"},
          {"offset": 0.5598, "color": "rgba(0,0,0,0)"}, {"offset": 0.5598, "color": "#548235"}, {"offset": 0.5684, "color": "#548235"}, {"offset": 0.5684, "color": "rgba(0,0,0,0)"},
          {"offset": 0.622, "color": "rgba(0,0,0,0)"}, {"offset": 0.622, "color": "#548235"}, {"offset": 0.6306, "color": "#548235"}, {"offset": 0.6306, "color": "rgba(0,0,0,0)"},
          {"offset": 0.6842, "color": "rgba(0,0,0,0)"}, {"offset": 0.6842, "color": "#548235"}, {"offset": 0.6928, "color": "#548235"}, {"offset": 0.6928, "color": "rgba(0,0,0,0)"},
          {"offset": 0.7464, "color": "rgba(0,0,0,0)"}, {"offset": 0.7464, "color": "#548235"}, {"offset": 0.755, "color": "#548235"}, {"offset": 0.755, "color": "rgba(0,0,0,0)"},
          {"offset": 0.8086, "color": "rgba(0,0,0,0)"}, {"offset": 0.8086, "color": "#548235"}, {"offset": 0.8172, "color": "#548235"}, {"offset": 0.8172, "color": "rgba(0,0,0,0)"},
          {"offset": 0.8708, "color": "rgba(0,0,0,0)"}, {"offset": 0.8708, "color": "#548235"}, {"offset": 0.8794, "color": "#548235"}, {"offset": 0.8794, "color": "rgba(0,0,0,0)"},
          {"offset": 0.933, "color": "rgba(0,0,0,0)"}, {"offset": 0.933, "color": "#548235"}, {"offset": 0.9416, "color": "#548235"}, {"offset": 0.9416, "color": "rgba(0,0,0,0)"},
          {"offset": 1, "color": "rgba(0,0,0,0)"}
        ]}},
      "encoding": {
        "theta": {"field": "cum0", "type": "quantitative", "scale": {"domain": [0, 100]}, "stack": null},
        "theta2": {"field": "cum"}
      }
    },
    {
      "transform": [{"filter": "datum.order == 10"}],
      "mark": {"type": "arc", "outerRadius": 437, "stroke": null, "fillOpacity": 0.85,
        "fill": {"gradient": "linear", "x1": 0, "y1": 1, "x2": 0.9301, "y2": -0.0613, "stops": [
          {"offset": 0, "color": "rgba(0,0,0,0)"},
          {"offset": 0.03, "color": "rgba(0,0,0,0)"}, {"offset": 0.03, "color": "#5B9BD5"}, {"offset": 0.0328, "color": "#5B9BD5"}, {"offset": 0.0328, "color": "rgba(0,0,0,0)"},
          {"offset": 0.06, "color": "rgba(0,0,0,0)"}, {"offset": 0.06, "color": "#5B9BD5"}, {"offset": 0.0628, "color": "#5B9BD5"}, {"offset": 0.0628, "color": "rgba(0,0,0,0)"},
          {"offset": 0.09, "color": "rgba(0,0,0,0)"}, {"offset": 0.09, "color": "#5B9BD5"}, {"offset": 0.0928, "color": "#5B9BD5"}, {"offset": 0.0928, "color": "rgba(0,0,0,0)"},
          {"offset": 0.12, "color": "rgba(0,0,0,0)"}, {"offset": 0.12, "color": "#5B9BD5"}, {"offset": 0.1228, "color": "#5B9BD5"}, {"offset": 0.1228, "color": "rgba(0,0,0,0)"},
          {"offset": 0.15, "color": "rgba(0,0,0,0)"}, {"offset": 0.15, "color": "#5B9BD5"}, {"offset": 0.1528, "color": "#5B9BD5"}, {"offset": 0.1528, "color": "rgba(0,0,0,0)"},
          {"offset": 0.18, "color": "rgba(0,0,0,0)"}, {"offset": 0.18, "color": "#5B9BD5"}, {"offset": 0.1828, "color": "#5B9BD5"}, {"offset": 0.1828, "color": "rgba(0,0,0,0)"},
          {"offset": 0.21, "color": "rgba(0,0,0,0)"}, {"offset": 0.21, "color": "#5B9BD5"}, {"offset": 0.2128, "color": "#5B9BD5"}, {"offset": 0.2128, "color": "rgba(0,0,0,0)"},
          {"offset": 0.24, "color": "rgba(0,0,0,0)"}, {"offset": 0.24, "color": "#5B9BD5"}, {"offset": 0.2428, "color": "#5B9BD5"}, {"offset": 0.2428, "color": "rgba(0,0,0,0)"},
          {"offset": 0.27, "color": "rgba(0,0,0,0)"}, {"offset": 0.27, "color": "#5B9BD5"}, {"offset": 0.2728, "color": "#5B9BD5"}, {"offset": 0.2728, "color": "rgba(0,0,0,0)"},
          {"offset": 0.3, "color": "rgba(0,0,0,0)"}, {"offset": 0.3, "color": "#5B9BD5"}, {"offset": 0.3028, "color": "#5B9BD5"}, {"offset": 0.3028, "color": "rgba(0,0,0,0)"},
          {"offset": 0.33, "color": "rgba(0,0,0,0)"}, {"offset": 0.33, "color": "#5B9BD5"}, {"offset": 0.3328, "color": "#5B9BD5"}, {"offset": 0.3328, "color": "rgba(0,0,0,0)"},
          {"offset": 0.36, "color": "rgba(0,0,0,0)"}, {"offset": 0.36, "color": "#5B9BD5"}, {"offset": 0.3628, "color": "#5B9BD5"}, {"offset": 0.3628, "color": "rgba(0,0,0,0)"},
          {"offset": 0.39, "color": "rgba(0,0,0,0)"}, {"offset": 0.39, "color": "#5B9BD5"}, {"offset": 0.3928, "color": "#5B9BD5"}, {"offset": 0.3928, "color": "rgba(0,0,0,0)"},
          {"offset": 0.42, "color": "rgba(0,0,0,0)"}, {"offset": 0.42, "color": "#5B9BD5"}, {"offset": 0.4228, "color": "#5B9BD5"}, {"offset": 0.4228, "color": "rgba(0,0,0,0)"},
          {"offset": 0.45, "color": "rgba(0,0,0,0)"}, {"offset": 0.45, "color": "#5B9BD5"}, {"offset": 0.4528, "color": "#5B9BD5"}, {"offset": 0.4528, "color": "rgba(0,0,0,0)"},
          {"offset": 0.48, "color": "rgba(0,0,0,0)"}, {"offset": 0.48, "color": "#5B9BD5"}, {"offset": 0.4828, "color": "#5B9BD5"}, {"offset": 0.4828, "color": "rgba(0,0,0,0)"},
          {"offset": 0.51, "color": "rgba(0,0,0,0)"}, {"offset": 0.51, "color": "#5B9BD5"}, {"offset": 0.5128, "color": "#5B9BD5"}, {"offset": 0.5128, "color": "rgba(0,0,0,0)"},
          {"offset": 0.54, "color": "rgba(0,0,0,0)"}, {"offset": 0.54, "color": "#5B9BD5"}, {"offset": 0.5428, "color": "#5B9BD5"}, {"offset": 0.5428, "color": "rgba(0,0,0,0)"},
          {"offset": 0.57, "color": "rgba(0,0,0,0)"}, {"offset": 0.57, "color": "#5B9BD5"}, {"offset": 0.5728, "color": "#5B9BD5"}, {"offset": 0.5728, "color": "rgba(0,0,0,0)"},
          {"offset": 0.6, "color": "rgba(0,0,0,0)"}, {"offset": 0.6, "color": "#5B9BD5"}, {"offset": 0.6028, "color": "#5B9BD5"}, {"offset": 0.6028, "color": "rgba(0,0,0,0)"},
          {"offset": 0.63, "color": "rgba(0,0,0,0)"}, {"offset": 0.63, "color": "#5B9BD5"}, {"offset": 0.6328, "color": "#5B9BD5"}, {"offset": 0.6328, "color": "rgba(0,0,0,0)"},
          {"offset": 0.66, "color": "rgba(0,0,0,0)"}, {"offset": 0.66, "color": "#5B9BD5"}, {"offset": 0.6628, "color": "#5B9BD5"}, {"offset": 0.6628, "color": "rgba(0,0,0,0)"},
          {"offset": 0.69, "color": "rgba(0,0,0,0)"}, {"offset": 0.69, "color": "#5B9BD5"}, {"offset": 0.6928, "color": "#5B9BD5"}, {"offset": 0.6928, "color": "rgba(0,0,0,0)"},
          {"offset": 0.72, "color": "rgba(0,0,0,0)"}, {"offset": 0.72, "color": "#5B9BD5"}, {"offset": 0.7228, "color": "#5B9BD5"}, {"offset": 0.7228, "color": "rgba(0,0,0,0)"},
          {"offset": 0.75, "color": "rgba(0,0,0,0)"}, {"offset": 0.75, "color": "#5B9BD5"}, {"offset": 0.7528, "color": "#5B9BD5"}, {"offset": 0.7528, "color": "rgba(0,0,0,0)"},
          {"offset": 0.78, "color": "rgba(0,0,0,0)"}, {"offset": 0.78, "color": "#5B9BD5"}, {"offset": 0.7828, "color": "#5B9BD5"}, {"offset": 0.7828, "color": "rgba(0,0,0,0)"},
          {"offset": 0.81, "color": "rgba(0,0,0,0)"}, {"offset": 0.81, "color": "#5B9BD5"}, {"offset": 0.8128, "color": "#5B9BD5"}, {"offset": 0.8128, "color": "rgba(0,0,0,0)"},
          {"offset": 0.84, "color": "rgba(0,0,0,0)"}, {"offset": 0.84, "color": "#5B9BD5"}, {"offset": 0.8428, "color": "#5B9BD5"}, {"offset": 0.8428, "color": "rgba(0,0,0,0)"},
          {"offset": 0.87, "color": "rgba(0,0,0,0)"}, {"offset": 0.87, "color": "#5B9BD5"}, {"offset": 0.8728, "color": "#5B9BD5"}, {"offset": 0.8728, "color": "rgba(0,0,0,0)"},
          {"offset": 0.9, "color": "rgba(0,0,0,0)"}, {"offset": 0.9, "color": "#5B9BD5"}, {"offset": 0.9028, "color": "#5B9BD5"}, {"offset": 0.9028, "color": "rgba(0,0,0,0)"},
          {"offset": 0.93, "color": "rgba(0,0,0,0)"}, {"offset": 0.93, "color": "#5B9BD5"}, {"offset": 0.9328, "color": "#5B9BD5"}, {"offset": 0.9328, "color": "rgba(0,0,0,0)"},
          {"offset": 0.96, "color": "rgba(0,0,0,0)"}, {"offset": 0.96, "color": "#5B9BD5"}, {"offset": 0.9628, "color": "#5B9BD5"}, {"offset": 0.9628, "color": "rgba(0,0,0,0)"},
          {"offset": 0.99, "color": "rgba(0,0,0,0)"}, {"offset": 0.99, "color": "#5B9BD5"}, {"offset": 0.9928, "color": "#5B9BD5"}, {"offset": 0.9928, "color": "rgba(0,0,0,0)"},
          {"offset": 1, "color": "rgba(0,0,0,0)"}
        ]}},
      "encoding": {
        "theta": {"field": "cum0", "type": "quantitative", "scale": {"domain": [0, 100]}, "stack": null},
        "theta2": {"field": "cum"}
      }
    },
    {
      "transform": [{"filter": "datum.order == 10"}],
      "mark": {"type": "arc", "outerRadius": 437, "stroke": null, "fillOpacity": 0.85,
        "fill": {"gradient": "linear", "x1": 0, "y1": 0, "x2": 0.9301, "y2": 1.0613, "stops": [
          {"offset": 0, "color": "rgba(0,0,0,0)"},
          {"offset": 0.03, "color": "rgba(0,0,0,0)"}, {"offset": 0.03, "color": "#5B9BD5"}, {"offset": 0.0328, "color": "#5B9BD5"}, {"offset": 0.0328, "color": "rgba(0,0,0,0)"},
          {"offset": 0.06, "color": "rgba(0,0,0,0)"}, {"offset": 0.06, "color": "#5B9BD5"}, {"offset": 0.0628, "color": "#5B9BD5"}, {"offset": 0.0628, "color": "rgba(0,0,0,0)"},
          {"offset": 0.09, "color": "rgba(0,0,0,0)"}, {"offset": 0.09, "color": "#5B9BD5"}, {"offset": 0.0928, "color": "#5B9BD5"}, {"offset": 0.0928, "color": "rgba(0,0,0,0)"},
          {"offset": 0.12, "color": "rgba(0,0,0,0)"}, {"offset": 0.12, "color": "#5B9BD5"}, {"offset": 0.1228, "color": "#5B9BD5"}, {"offset": 0.1228, "color": "rgba(0,0,0,0)"},
          {"offset": 0.15, "color": "rgba(0,0,0,0)"}, {"offset": 0.15, "color": "#5B9BD5"}, {"offset": 0.1528, "color": "#5B9BD5"}, {"offset": 0.1528, "color": "rgba(0,0,0,0)"},
          {"offset": 0.18, "color": "rgba(0,0,0,0)"}, {"offset": 0.18, "color": "#5B9BD5"}, {"offset": 0.1828, "color": "#5B9BD5"}, {"offset": 0.1828, "color": "rgba(0,0,0,0)"},
          {"offset": 0.21, "color": "rgba(0,0,0,0)"}, {"offset": 0.21, "color": "#5B9BD5"}, {"offset": 0.2128, "color": "#5B9BD5"}, {"offset": 0.2128, "color": "rgba(0,0,0,0)"},
          {"offset": 0.24, "color": "rgba(0,0,0,0)"}, {"offset": 0.24, "color": "#5B9BD5"}, {"offset": 0.2428, "color": "#5B9BD5"}, {"offset": 0.2428, "color": "rgba(0,0,0,0)"},
          {"offset": 0.27, "color": "rgba(0,0,0,0)"}, {"offset": 0.27, "color": "#5B9BD5"}, {"offset": 0.2728, "color": "#5B9BD5"}, {"offset": 0.2728, "color": "rgba(0,0,0,0)"},
          {"offset": 0.3, "color": "rgba(0,0,0,0)"}, {"offset": 0.3, "color": "#5B9BD5"}, {"offset": 0.3028, "color": "#5B9BD5"}, {"offset": 0.3028, "color": "rgba(0,0,0,0)"},
          {"offset": 0.33, "color": "rgba(0,0,0,0)"}, {"offset": 0.33, "color": "#5B9BD5"}, {"offset": 0.3328, "color": "#5B9BD5"}, {"offset": 0.3328, "color": "rgba(0,0,0,0)"},
          {"offset": 0.36, "color": "rgba(0,0,0,0)"}, {"offset": 0.36, "color": "#5B9BD5"}, {"offset": 0.3628, "color": "#5B9BD5"}, {"offset": 0.3628, "color": "rgba(0,0,0,0)"},
          {"offset": 0.39, "color": "rgba(0,0,0,0)"}, {"offset": 0.39, "color": "#5B9BD5"}, {"offset": 0.3928, "color": "#5B9BD5"}, {"offset": 0.3928, "color": "rgba(0,0,0,0)"},
          {"offset": 0.42, "color": "rgba(0,0,0,0)"}, {"offset": 0.42, "color": "#5B9BD5"}, {"offset": 0.4228, "color": "#5B9BD5"}, {"offset": 0.4228, "color": "rgba(0,0,0,0)"},
          {"offset": 0.45, "color": "rgba(0,0,0,0)"}, {"offset": 0.45, "color": "#5B9BD5"}, {"offset": 0.4528, "color": "#5B9BD5"}, {"offset": 0.4528, "color": "rgba(0,0,0,0)"},
          {"offset": 0.48, "color": "rgba(0,0,0,0)"}, {"offset": 0.48, "color": "#5B9BD5"}, {"offset": 0.4828, "color": "#5B9BD5"}, {"offset": 0.4828, "color": "rgba(0,0,0,0)"},
          {"offset": 0.51, "color": "rgba(0,0,0,0)"}, {"offset": 0.51, "color": "#5B9BD5"}, {"offset": 0.5128, "color": "#5B9BD5"}, {"offset": 0.5128, "color": "rgba(0,0,0,0)"},
          {"offset": 0.54, "color": "rgba(0,0,0,0)"}, {"offset": 0.54, "color": "#5B9BD5"}, {"offset": 0.5428, "color": "#5B9BD5"}, {"offset": 0.5428, "color": "rgba(0,0,0,0)"},
          {"offset": 0.57, "color": "rgba(0,0,0,0)"}, {"offset": 0.57, "color": "#5B9BD5"}, {"offset": 0.5728, "color": "#5B9BD5"}, {"offset": 0.5728, "color": "rgba(0,0,0,0)"},
          {"offset": 0.6, "color": "rgba(0,0,0,0)"}, {"offset": 0.6, "color": "#5B9BD5"}, {"offset": 0.6028, "color": "#5B9BD5"}, {"offset": 0.6028, "color": "rgba(0,0,0,0)"},
          {"offset": 0.63, "color": "rgba(0,0,0,0)"}, {"offset": 0.63, "color": "#5B9BD5"}, {"offset": 0.6328, "color": "#5B9BD5"}, {"offset": 0.6328, "color": "rgba(0,0,0,0)"},
          {"offset": 0.66, "color": "rgba(0,0,0,0)"}, {"offset": 0.66, "color": "#5B9BD5"}, {"offset": 0.6628, "color": "#5B9BD5"}, {"offset": 0.6628, "color": "rgba(0,0,0,0)"},
          {"offset": 0.69, "color": "rgba(0,0,0,0)"}, {"offset": 0.69, "color": "#5B9BD5"}, {"offset": 0.6928, "color": "#5B9BD5"}, {"offset": 0.6928, "color": "rgba(0,0,0,0)"},
          {"offset": 0.72, "color": "rgba(0,0,0,0)"}, {"offset": 0.72, "color": "#5B9BD5"}, {"offset": 0.7228, "color": "#5B9BD5"}, {"offset": 0.7228, "color": "rgba(0,0,0,0)"},
          {"offset": 0.75, "color": "rgba(0,0,0,0)"}, {"offset": 0.75, "color": "#5B9BD5"}, {"offset": 0.7528, "color": "#5B9BD5"}, {"offset": 0.7528, "color": "rgba(0,0,0,0)"},
          {"offset": 0.78, "color": "rgba(0,0,0,0)"}, {"offset": 0.78, "color": "#5B9BD5"}, {"offset": 0.7828, "color": "#5B9BD5"}, {"offset": 0.7828, "color": "rgba(0,0,0,0)"},
          {"offset": 0.81, "color": "rgba(0,0,0,0)"}, {"offset": 0.81, "color": "#5B9BD5"}, {"offset": 0.8128, "color": "#5B9BD5"}, {"offset": 0.8128, "color": "rgba(0,0,0,0)"},
          {"offset": 0.84, "color": "rgba(0,0,0,0)"}, {"offset": 0.84, "color": "#5B9BD5"}, {"offset": 0.8428, "color": "#5B9BD5"}, {"offset": 0.8428, "color": "rgba(0,0,0,0)"},
          {"offset": 0.87, "color": "rgba(0,0,0,0)"}, {"offset": 0.87, "color": "#5B9BD5"}, {"offset": 0.8728, "color": "#5B9BD5"}, {"offset": 0.8728, "color": "rgba(0,0,0,0)"},
          {"offset": 0.9, "color": "rgba(0,0,0,0)"}, {"offset": 0.9, "color": "#5B9BD5"}, {"offset": 0.9028, "color": "#5B9BD5"}, {"offset": 0.9028, "color": "rgba(0,0,0,0)"},
          {"offset": 0.93, "color": "rgba(0,0,0,0)"}, {"offset": 0.93, "color": "#5B9BD5"}, {"offset": 0.9328, "color": "#5B9BD5"}, {"offset": 0.9328, "color": "rgba(0,0,0,0)"},
          {"offset": 0.96, "color": "rgba(0,0,0,0)"}, {"offset": 0.96, "color": "#5B9BD5"}, {"offset": 0.9628, "color": "#5B9BD5"}, {"offset": 0.9628, "color": "rgba(0,0,0,0)"},
          {"offset": 0.99, "color": "rgba(0,0,0,0)"}, {"offset": 0.99, "color": "#5B9BD5"}, {"offset": 0.9928, "color": "#5B9BD5"}, {"offset": 0.9928, "color": "rgba(0,0,0,0)"},
          {"offset": 1, "color": "rgba(0,0,0,0)"}
        ]}},
      "encoding": {
        "theta": {"field": "cum0", "type": "quantitative", "scale": {"domain": [0, 100]}, "stack": null},
        "theta2": {"field": "cum"}
      }
    },
    {
      "mark": {"type": "arc", "outerRadius": 437, "filled": false, "stroke": "#000000", "strokeWidth": 3.5, "strokeJoin": "round"},
      "encoding": {
        "theta": {"field": "cum0", "type": "quantitative", "scale": {"domain": [0, 100]}, "stack": null},
        "theta2": {"field": "cum"}
      }
    },
    {
      "encoding": {
        "x": {"field": "ex", "type": "quantitative", "scale": {"domain": [-1.864989, 1.864989], "nice": false, "zero": false}, "axis": null},
        "y": {"field": "ey", "type": "quantitative", "scale": {"domain": [-1.172769, 1.172769], "nice": false, "zero": false}, "axis": null}
      },
      "layer": [
        {"transform": [{"filter": "datum.order == 1"}], "layer": [
          {"mark": {"type": "rule", "stroke": "#A6A6A6", "strokeWidth": 1.5, "x2Offset": 107, "y2Offset": -74}, "encoding": {"x2": {"field": "ex"}, "y2": {"field": "ey"}}},
          {"mark": {"type": "rule", "stroke": "#A6A6A6", "strokeWidth": 1.5, "xOffset": 107, "yOffset": -74, "x2Offset": 119, "y2Offset": -74}, "encoding": {"x2": {"field": "ex"}, "y2": {"field": "ey"}}},
          {"mark": {"type": "text", "font": "Lato", "fontWeight": "bold", "fontSize": 32, "fill": "#404040", "align": "center", "baseline": "alphabetic", "lineHeight": 44.5, "dx": 286, "dy": -119}, "encoding": {"text": {"field": "label"}}}
        ]},
        {"transform": [{"filter": "datum.order == 2"}], "layer": [
          {"mark": {"type": "rule", "stroke": "#A6A6A6", "strokeWidth": 1.5, "x2Offset": 129.5, "y2Offset": 26}, "encoding": {"x2": {"field": "ex"}, "y2": {"field": "ey"}}},
          {"mark": {"type": "rule", "stroke": "#A6A6A6", "strokeWidth": 1.5, "xOffset": 129.5, "yOffset": 26, "x2Offset": 141.5, "y2Offset": 26}, "encoding": {"x2": {"field": "ex"}, "y2": {"field": "ey"}}},
          {"mark": {"type": "text", "font": "Lato", "fontWeight": "bold", "fontSize": 32, "fill": "#404040", "align": "center", "baseline": "alphabetic", "lineHeight": 44.5, "dx": 266.5, "dy": 25}, "encoding": {"text": {"field": "label"}}}
        ]},
        {"transform": [{"filter": "datum.order == 3"}], "layer": [
          {"mark": {"type": "rule", "stroke": "#A6A6A6", "strokeWidth": 1.5, "x2Offset": 48.5, "y2Offset": 52}, "encoding": {"x2": {"field": "ex"}, "y2": {"field": "ey"}}},
          {"mark": {"type": "rule", "stroke": "#A6A6A6", "strokeWidth": 1.5, "xOffset": 48.5, "yOffset": 52, "x2Offset": 58.5, "y2Offset": 52}, "encoding": {"x2": {"field": "ex"}, "y2": {"field": "ey"}}},
          {"mark": {"type": "text", "font": "Lato", "fontWeight": "bold", "fontSize": 32, "fill": "#404040", "align": "center", "baseline": "alphabetic", "lineHeight": 43, "dx": 202.5, "dy": 54}, "encoding": {"text": {"field": "label"}}}
        ]},
        {"transform": [{"filter": "datum.order == 4"}], "layer": [
          {"mark": {"type": "rule", "stroke": "#A6A6A6", "strokeWidth": 1.5, "x2Offset": -47, "y2Offset": 86.6}, "encoding": {"x2": {"field": "ex"}, "y2": {"field": "ey"}}},
          {"mark": {"type": "rule", "stroke": "#A6A6A6", "strokeWidth": 1.5, "xOffset": -47, "yOffset": 86.6, "x2Offset": -59, "y2Offset": 86.6}, "encoding": {"x2": {"field": "ex"}, "y2": {"field": "ey"}}},
          {"mark": {"type": "text", "font": "Lato", "fontWeight": "bold", "fontSize": 32, "fill": "#404040", "align": "center", "baseline": "alphabetic", "lineHeight": 44.5, "dx": -235, "dy": 87.6}, "encoding": {"text": {"field": "label"}}}
        ]},
        {"transform": [{"filter": "datum.order == 5"}], "layer": [
          {"mark": {"type": "rule", "stroke": "#A6A6A6", "strokeWidth": 1.5, "x2Offset": -187.4, "y2Offset": 105.2}, "encoding": {"x2": {"field": "ex"}, "y2": {"field": "ey"}}},
          {"mark": {"type": "rule", "stroke": "#A6A6A6", "strokeWidth": 1.5, "xOffset": -187.4, "yOffset": 105.2, "x2Offset": -200.4, "y2Offset": 105.2}, "encoding": {"x2": {"field": "ex"}, "y2": {"field": "ey"}}},
          {"mark": {"type": "text", "font": "Lato", "fontWeight": "bold", "fontSize": 32, "fill": "#404040", "align": "center", "baseline": "alphabetic", "lineHeight": 44.5, "dx": -376.4, "dy": 62.2}, "encoding": {"text": {"field": "label"}}}
        ]},
        {"transform": [{"filter": "datum.order == 6"}], "layer": [
          {"mark": {"type": "rule", "stroke": "#A6A6A6", "strokeWidth": 1.5, "x2Offset": -149.3, "y2Offset": 65}, "encoding": {"x2": {"field": "ex"}, "y2": {"field": "ey"}}},
          {"mark": {"type": "rule", "stroke": "#A6A6A6", "strokeWidth": 1.5, "xOffset": -149.3, "yOffset": 65, "x2Offset": -163.3, "y2Offset": 65}, "encoding": {"x2": {"field": "ex"}, "y2": {"field": "ey"}}},
          {"mark": {"type": "text", "font": "Lato", "fontWeight": "bold", "fontSize": 32, "fill": "#404040", "align": "center", "baseline": "alphabetic", "lineHeight": 44.5, "dx": -340.3, "dy": 20}, "encoding": {"text": {"field": "label"}}}
        ]},
        {"transform": [{"filter": "datum.order == 7"}], "layer": [
          {"mark": {"type": "rule", "stroke": "#A6A6A6", "strokeWidth": 1.5, "x2Offset": -171, "y2Offset": 3}, "encoding": {"x2": {"field": "ex"}, "y2": {"field": "ey"}}},
          {"mark": {"type": "text", "font": "Lato", "fontWeight": "bold", "fontSize": 32, "fill": "#404040", "align": "center", "baseline": "alphabetic", "lineHeight": 44.5, "dx": -349, "dy": 3.6}, "encoding": {"text": {"field": "label"}}}
        ]},
        {"transform": [{"filter": "datum.order == 8"}], "layer": [
          {"mark": {"type": "rule", "stroke": "#A6A6A6", "strokeWidth": 1.5, "x2Offset": -140.8, "y2Offset": -60.1}, "encoding": {"x2": {"field": "ex"}, "y2": {"field": "ey"}}},
          {"mark": {"type": "rule", "stroke": "#A6A6A6", "strokeWidth": 1.5, "xOffset": -140.8, "yOffset": -60.1, "x2Offset": -151.8, "y2Offset": -60.1}, "encoding": {"x2": {"field": "ex"}, "y2": {"field": "ey"}}},
          {"mark": {"type": "text", "font": "Lato", "fontWeight": "bold", "fontSize": 32, "fill": "#404040", "align": "center", "baseline": "alphabetic", "lineHeight": 44.5, "dx": -316.8, "dy": -60.1}, "encoding": {"text": {"field": "label"}}}
        ]},
        {"transform": [{"filter": "datum.order == 9"}], "layer": [
          {"mark": {"type": "rule", "stroke": "#A6A6A6", "strokeWidth": 1.5, "x2Offset": -137.6, "y2Offset": -152.4}, "encoding": {"x2": {"field": "ex"}, "y2": {"field": "ey"}}},
          {"mark": {"type": "rule", "stroke": "#A6A6A6", "strokeWidth": 1.5, "xOffset": -137.6, "yOffset": -152.4, "x2Offset": -150.6, "y2Offset": -152.4}, "encoding": {"x2": {"field": "ex"}, "y2": {"field": "ey"}}},
          {"mark": {"type": "text", "font": "Lato", "fontWeight": "bold", "fontSize": 32, "fill": "#404040", "align": "center", "baseline": "alphabetic", "lineHeight": 44.5, "dx": -327.6, "dy": -151.4}, "encoding": {"text": {"field": "label"}}}
        ]},
        {"transform": [{"filter": "datum.order == 10"}], "layer": [
          {"mark": {"type": "rule", "stroke": "#A6A6A6", "strokeWidth": 1.5, "x2Offset": -142.4, "y2Offset": -104.4}, "encoding": {"x2": {"field": "ex"}, "y2": {"field": "ey"}}},
          {"mark": {"type": "rule", "stroke": "#A6A6A6", "strokeWidth": 1.5, "xOffset": -142.4, "yOffset": -104.4, "x2Offset": -151.4, "y2Offset": -104.4}, "encoding": {"x2": {"field": "ex"}, "y2": {"field": "ey"}}},
          {"mark": {"type": "text", "font": "Lato", "fontWeight": "bold", "fontSize": 32, "fill": "#404040", "align": "center", "baseline": "alphabetic", "lineHeight": 44.5, "dx": -323.4, "dy": -104.4}, "encoding": {"text": {"field": "label"}}}
        ]}
      ]
    }
  ]
}
